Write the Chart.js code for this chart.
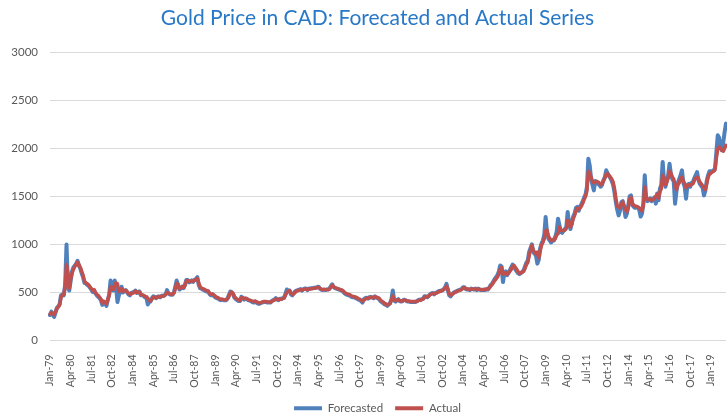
<!DOCTYPE html>
<html>
<head>
<meta charset="utf-8">
<script src="https://cdn.jsdelivr.net/npm/chart.js@4.4.1/dist/chart.umd.min.js"></script>
<style>
  html, body { margin: 0; padding: 0; background: #fff; overflow: hidden; }
  #wrap { width: 755px; height: 424px; }
</style>
</head>
<body>
<div id="wrap"><canvas id="myChart" width="755" height="424"></canvas></div>
<script>
// months Jan-79 .. Dec-19
const monthNames = ["Jan","Feb","Mar","Apr","May","Jun","Jul","Aug","Sep","Oct","Nov","Dec"];
const firstYear = 1979;
const lastYear = 2019;
const labelEvery = 15; // one tick label every 15 months

// actual gold price in CAD, one row per year
const actual = [
  275,290,280,270,300,330,350,370,450,470,480,560,
  790,700,545,640,700,740,770,790,815,790,760,720,
  680,620,600,590,580,560,540,520,530,500,480,470,
  450,430,390,410,400,380,430,470,560,540,530,580,
  600,590,510,520,540,510,520,520,510,490,480,490,
  490,500,515,500,500,505,480,475,470,460,455,440,
  420,410,430,450,450,445,450,455,455,460,460,465,
  480,500,495,485,480,480,495,540,595,585,545,545,
  560,550,570,615,625,615,615,620,615,625,635,645,
  600,560,545,540,535,525,520,515,490,480,485,475,
  460,450,445,435,430,430,425,425,425,435,460,495,
  505,490,455,440,430,420,415,445,445,435,440,435,
  425,420,415,410,405,410,405,395,390,395,400,405,
  405,405,400,400,400,405,415,420,430,430,425,430,
  430,435,440,470,500,510,520,495,480,485,500,515,
  520,525,530,525,530,535,535,530,535,535,540,540,
  545,545,550,555,545,535,530,530,530,530,530,535,
  555,575,560,550,545,540,535,530,525,515,500,490,
  485,480,475,465,460,455,450,445,435,430,420,410,
  420,430,440,440,445,450,450,445,455,450,445,440,
  420,410,400,385,380,370,375,385,420,465,425,415,
  415,425,415,410,410,420,420,415,410,408,405,405,
  405,405,405,410,420,420,425,430,450,455,455,460,
  475,485,490,485,490,495,505,510,515,520,530,545,
  565,535,485,470,480,490,500,505,515,520,525,530,
  545,550,540,535,535,530,535,535,535,535,530,535,
  535,530,528,530,530,535,535,545,565,580,600,625,
  640,660,690,740,760,690,700,705,690,700,720,740,
  770,780,760,740,715,700,705,710,720,750,790,810,
  880,940,990,940,920,900,920,860,930,990,1020,1060,
  1140,1150,1090,1060,1040,1050,1045,1060,1100,1110,1180,1150,
  1140,1145,1150,1165,1250,1240,1180,1210,1265,1300,1350,1375,
  1365,1380,1400,1430,1470,1500,1560,1760,1740,1700,1660,1640,
  1650,1655,1650,1640,1620,1630,1660,1690,1730,1735,1720,1700,
  1680,1650,1580,1480,1400,1390,1380,1420,1440,1400,1360,1340,
  1380,1470,1490,1430,1405,1400,1395,1390,1380,1360,1350,1400,
  1600,1490,1470,1465,1470,1460,1465,1480,1500,1520,1480,1550,
  1580,1720,1680,1620,1650,1690,1760,1740,1700,1680,1620,1570,
  1620,1640,1680,1700,1660,1630,1590,1610,1620,1615,1625,1630,
  1665,1690,1700,1680,1650,1630,1610,1590,1570,1630,1700,1730,
  1740,1755,1760,1775,1900,1990,2015,2000,1980,1970,2000,2030
];

// forecasted series, same months
const forecasted = [
  265,300,270,245,290,340,355,380,470,480,470,580,
  1000,560,520,620,720,760,780,800,830,780,750,700,
  660,600,595,580,570,550,530,505,520,490,470,455,
  440,420,370,400,390,360,420,480,625,560,520,625,
  560,400,470,510,560,500,515,525,500,480,470,495,
  500,505,520,495,505,510,470,470,465,450,450,375,
  400,405,440,460,455,440,455,460,450,465,465,470,
  480,525,490,480,475,475,500,560,625,575,530,540,
  560,545,580,630,630,605,610,625,610,630,640,660,
  580,545,540,530,525,515,510,505,480,470,480,465,
  450,440,440,425,420,425,420,420,420,440,475,510,
  500,480,445,430,420,410,410,455,445,425,435,430,
  420,415,410,400,395,405,395,385,380,390,395,400,
  400,400,395,395,395,410,420,425,440,425,420,435,
  430,440,445,485,531,515,520,480,470,490,510,520,
  525,530,535,520,535,540,540,525,540,540,545,545,
  550,550,555,560,540,530,525,530,525,530,530,540,
  565,585,555,545,540,535,530,525,520,505,490,480,
  475,470,465,455,450,450,440,435,425,420,410,395,
  430,440,445,435,450,455,445,440,460,445,440,430,
  410,400,390,375,370,360,375,390,430,521,415,405,
  420,430,410,405,410,425,420,410,405,405,400,400,
  400,400,405,415,425,420,430,435,460,460,450,465,
  480,490,495,480,495,500,510,515,520,525,535,555,
  590,520,470,460,480,495,505,510,520,525,530,535,
  555,555,535,530,530,525,540,535,530,540,525,540,
  530,525,525,528,525,535,530,550,575,590,615,640,
  660,680,720,781,770,608,700,720,680,705,730,760,
  790,775,740,720,700,690,700,715,730,770,810,830,
  920,960,1000,920,905,880,800,840,960,1010,1040,1100,
  1285,1120,1060,1040,1020,1040,1040,1080,1130,1267,1200,1130,
  1120,1140,1160,1180,1337,1220,1160,1220,1290,1320,1380,1390,
  1350,1390,1420,1450,1490,1520,1600,1892,1823,1680,1620,1562,
  1660,1640,1630,1620,1600,1620,1670,1700,1771,1740,1710,1690,
  1660,1620,1540,1440,1360,1302,1350,1440,1450,1380,1285,1320,
  1400,1500,1510,1410,1390,1380,1390,1380,1360,1290,1320,1440,
  1719,1470,1450,1460,1480,1450,1470,1490,1424,1530,1460,1580,
  1620,1858,1660,1600,1660,1720,1840,1730,1680,1660,1424,1550,
  1640,1680,1720,1771,1640,1600,1476,1620,1630,1600,1640,1650,
  1690,1720,1753,1670,1630,1610,1590,1510,1560,1660,1720,1760,
  1760,1760,1770,1790,1960,2135,2110,2020,1980,2060,2170,2257
];

const yTicks = [0, 500, 1000, 1500, 2000, 2500, 3000];

const xValues = [];
for (let y = firstYear; y <= lastYear; y++) {
  for (let m = 0; m < 12; m++) {
    xValues.push(monthNames[m] + "-" + String(y).slice(2));
  }
}

const fontFam = "Lato, 'Open Sans', sans-serif";

new Chart("myChart", {
  type: "line",
  data: {
    labels: xValues,
    datasets: [{
      label: "Forecasted",
      data: forecasted,
      borderColor: "#4F81BD",
      backgroundColor: "#4F81BD",
      borderWidth: 4,
      borderJoinStyle: "round",
      borderCapStyle: "round",
      fill: false,
      pointRadius: 0,
      tension: 0,
      yAxisID: "y",
      order: 1
    }, {
      label: "Actual",
      data: actual,
      borderColor: "#C0504D",
      backgroundColor: "#C0504D",
      borderWidth: 3.5,
      borderJoinStyle: "round",
      borderCapStyle: "round",
      fill: false,
      pointRadius: 0,
      tension: 0,
      yAxisID: "y",
      order: 0
    }]
  },
  options: {
    responsive: false,
    animation: false,
    devicePixelRatio: 1,
    layout: {padding: 0},
    plugins: {
      title: {
        display: true,
        text: "Gold Price in CAD: Forecated and Actual Series",
        color: "#2878C8",
        font: {family: fontFam, size: 21, weight: "normal", lineHeight: 1.2},
        padding: {top: 6, bottom: 21}
      },
      legend: {
        position: "bottom",
        labels: {
          color: "#595959",
          font: {family: fontFam, size: 11.5},
          boxWidth: 28,
          boxHeight: 4,
          padding: 12,
          sort: (a, b) => a.datasetIndex - b.datasetIndex,
          generateLabels: chart => Chart.defaults.plugins.legend.labels.generateLabels(chart)
            .map(l => Object.assign(l, {lineWidth: 0}))
        }
      },
      tooltip: {enabled: false}
    },
    scales: {
      x: {
        grid: {display: false},
        border: {display: false},
        afterFit: s => { s.height = 50; },
        ticks: {
          autoSkip: false,
          minRotation: 90,
          maxRotation: 90,
          color: "#595959",
          font: {family: fontFam, size: 10.5},
          padding: 6,
          callback: function(v, i) { return i % labelEvery === 0 ? this.getLabelForValue(v) : null; }
        }
      },
      y: {
        min: 0,
        max: 3000,
        afterBuildTicks: s => { s.ticks = yTicks.map(v => ({value: v})); },
        afterFit: s => { s.width = 50; },
        grid: {color: "#D9D9D9", drawTicks: false},
        border: {display: false},
        ticks: {
          color: "#595959",
          font: {family: fontFam, size: 11.5},
          padding: 12,
          callback: v => String(v)
        }
      },
      // empty right margin, the reference is cut off on the right
      yRight: {
        position: "right",
        grid: {display: false},
        border: {display: false},
        ticks: {display: false},
        afterFit: s => { s.width = 29; }
      }
    }
  }
});
</script>
</body>
</html>
